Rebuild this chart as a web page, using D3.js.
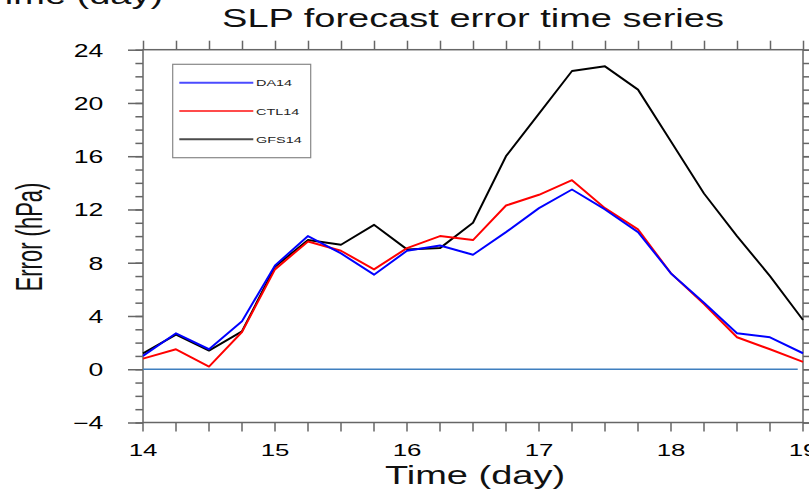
<!DOCTYPE html>
<html>
<head>
<meta charset="utf-8">
<script src="https://cdn.jsdelivr.net/npm/d3@7"></script>
<style>
  body { margin: 0; background: #fff; }
  svg { display: block; font-family: "Liberation Sans", Arial, sans-serif; }
</style>
</head>
<body>
<script>
// forecast time, every 6 h
let days = [14, 14.25, 14.5, 14.75, 15, 15.25, 15.5, 15.75, 16, 16.25, 16.5,
  16.75, 17, 17.25, 17.5, 17.75, 18, 18.25, 18.5, 18.75, 19];
let da14 = [1.0, 2.7, 1.5, 3.6, 7.8, 10.0, 8.7, 7.1, 8.9, 9.3, 8.6,
  10.3, 12.1, 13.5, 12.0, 10.3, 7.2, 5.0, 2.7, 2.4, 1.2];
let ctl14 = [0.8, 1.5, 0.2, 2.8, 7.5, 9.6, 8.9, 7.5, 9.1, 10.0, 9.7,
  12.3, 13.1, 14.2, 12.1, 10.5, 7.2, 4.9, 2.4, 1.5, 0.55];
let gfs14 = [1.2, 2.6, 1.4, 2.85, 7.7, 9.7, 9.35, 10.85, 9.0, 9.1, 11.0,
  16.0, 19.2, 22.4, 22.75, 21.0, 17.1, 13.2, 10.0, 7.0, 3.7];
let seriesNames = ["GFS14", "CTL14", "DA14"];
let yMajor = [-4, 0, 4, 8, 12, 16, 20, 24];
let xMajor = [14, 15, 16, 17, 18, 19];
let zeroLine = [14, 18.96];

let width = 809;
let height = 492;
let sx = 1.52; // the plot is stretched sideways
let colors = { DA14: "#0000ff", CTL14: "#ff0000", GFS14: "#000000" };
let values = { DA14: da14, CTL14: ctl14, GFS14: gfs14 };

let svg = d3.select("body").append("svg")
  .attr("width", width)
  .attr("height", height);

let x = d3.scaleLinear().domain([14, 19]).range([143, 803]);
let y = d3.scaleLinear().domain([-4, 24]).range([422.5, 49.7]);

let axisColor = "#666";

// minor ticks
let yMinor = d3.range(-4, 24.01, 1);
let xMinor = d3.range(14, 19.01, 0.25);

function styleAxis(g) {
  g.select(".domain").remove();
  g.selectAll("line").attr("stroke", axisColor).attr("stroke-width", 1.5);
}

svg.append("g").attr("transform", `translate(${x(14)},0)`)
  .call(d3.axisLeft(y).tickValues(yMinor).tickSize(7.6).tickFormat(""))
  .call(styleAxis);
svg.append("g").attr("transform", `translate(${x(19)},0)`)
  .call(d3.axisRight(y).tickValues(yMinor).tickSize(7.6).tickFormat(""))
  .call(styleAxis);
svg.append("g").attr("transform", `translate(${x(19)},0)`)
  .call(d3.axisRight(y).tickValues(yMajor).tickSize(15).tickFormat(""))
  .call(styleAxis);

let leftAxis = svg.append("g").attr("transform", `translate(${x(14)},0)`)
  .call(d3.axisLeft(y).tickValues(yMajor).tickSize(15).tickFormat(d3.format("d")))
  .call(styleAxis);
leftAxis.selectAll("text")
  .attr("x", -39.7 / sx)
  .attr("dy", "0.37em")
  .attr("transform", `scale(${sx},1)`)
  .attr("fill", "#000")
  .attr("font-size", 17.5)
  .attr("font-family", "Liberation Sans, Arial, sans-serif");

svg.append("g").attr("transform", `translate(0,${y(24)})`)
  .call(d3.axisTop(x).tickValues(xMinor).tickSize(9).tickFormat(""))
  .call(styleAxis);

let bottomAxis = svg.append("g").attr("transform", `translate(0,${y(-4)})`)
  .call(d3.axisBottom(x).tickValues(xMinor).tickSize(9)
    .tickFormat((d) => (xMajor.includes(d) ? d : "")))
  .call(styleAxis);
bottomAxis.selectAll("text")
  .attr("y", 34)
  .attr("dy", 0)
  .attr("transform", `scale(${sx},1)`)
  .attr("fill", "#000")
  .attr("font-size", 17)
  .attr("font-family", "Liberation Sans, Arial, sans-serif");
// scaling moves x too, so undo it for the labels
bottomAxis.selectAll(".tick")
  .each(function (d) {
    d3.select(this).select("text").attr("x", 0);
    d3.select(this).attr("transform", `translate(${x(d)},0)`);
  });

// frame
svg.append("rect")
  .attr("x", x(14))
  .attr("y", y(24))
  .attr("width", x(19) - x(14))
  .attr("height", y(-4) - y(24))
  .attr("fill", "none")
  .attr("stroke", axisColor)
  .attr("stroke-width", 1.5);

// zero reference
svg.append("line")
  .attr("x1", x(zeroLine[0]))
  .attr("x2", x(zeroLine[1]))
  .attr("y1", y(0))
  .attr("y2", y(0))
  .attr("stroke", "#3f7fbf")
  .attr("stroke-width", 1.5);

let line = d3.line()
  .x((d, i) => x(days[i]))
  .y((d) => y(d));

svg.selectAll("path.series")
  .data(seriesNames)
  .enter()
  .append("path")
  .attr("class", "series")
  .attr("d", (d) => line(values[d]))
  .attr("fill", "none")
  .attr("stroke", (d) => colors[d])
  .attr("stroke-width", 2)
  .attr("stroke-linejoin", "round");

// legend
let legendNames = ["DA14", "CTL14", "GFS14"];
let legend = svg.append("g");
legend.append("rect")
  .attr("x", 172.7)
  .attr("y", 64.3)
  .attr("width", 138)
  .attr("height", 93.4)
  .attr("fill", "#fff")
  .attr("stroke", "#888")
  .attr("stroke-width", 1.2);

let items = legend.selectAll("g.item")
  .data(legendNames)
  .enter()
  .append("g")
  .attr("class", "item")
  .attr("transform", (d, i) => `translate(0,${82.7 + i * 28.3})`);
items.append("line")
  .attr("x1", 179.3)
  .attr("x2", 253.3)
  .attr("stroke", (d) => colors[d])
  .attr("stroke-width", 2)
  .attr("opacity", 0.7);
items.append("text")
  .text((d) => d)
  .attr("transform", `translate(256,3.5) scale(${sx},1)`)
  .attr("font-size", 9.5)
  .attr("fill", "#222");

// titles
svg.append("text")
  .text("SLP forecast error time series")
  .attr("transform", `translate(473,27) scale(${sx},1)`)
  .attr("text-anchor", "middle")
  .attr("font-size", 25)
  .attr("fill", "#111");

svg.append("text")
  .text("Time (day)")
  .attr("transform", `translate(475,484) scale(${sx},1)`)
  .attr("text-anchor", "middle")
  .attr("font-size", 25)
  .attr("fill", "#111");

// leftover label cut at the top edge
svg.append("text")
  .text("Time (day)")
  .attr("transform", `translate(-17,4) scale(${sx},1)`)
  .attr("font-size", 25)
  .attr("fill", "#111");

svg.append("text")
  .text("Error (hPa)")
  .attr("transform", `translate(42,237) scale(1.65,1) rotate(-90)`)
  .attr("text-anchor", "middle")
  .attr("font-size", 22)
  .attr("fill", "#111");
</script>
</body>
</html>
